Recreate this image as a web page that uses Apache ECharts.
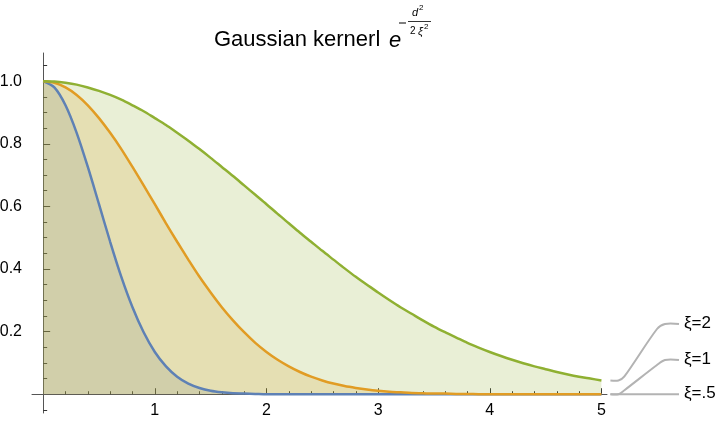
<!DOCTYPE html>
<html>
<head>
<meta charset="utf-8">
<style>
  html, body { margin: 0; padding: 0; background: #fff; }
  #chart { width: 724px; height: 425px; }
</style>
<script src="https://cdn.jsdelivr.net/npm/echarts@6/dist/echarts.min.js"></script>
</head>
<body>
<div id="chart"></div>
<script>
// d values, step 0.1 from 0 to 5
var dValues = [0,0.1,0.2,0.3,0.4,0.5,0.6,0.7,0.8,0.9,1,1.1,1.2,1.3,1.4,1.5,1.6,1.7,1.8,1.9,2,
  2.1,2.2,2.3,2.4,2.5,2.6,2.7,2.8,2.9,3,3.1,3.2,3.3,3.4,3.5,3.6,3.7,3.8,3.9,4,
  4.1,4.2,4.3,4.4,4.5,4.6,4.7,4.8,4.9,5];

// kernel values
var xiHalf = [1,0.980,0.923,0.835,0.726,0.607,0.487,0.375,0.278,0.198,0.135,0.089,0.056,0.034,0.020,0.011,0.006,0.003,0.002,0.001,0,
  0,0,0,0,0,0,0,0,0,0,0,0,0,0,0,0,0,0,0,0,
  0,0,0,0,0,0,0,0,0,0];
var xiOne = [1,0.995,0.980,0.956,0.923,0.882,0.835,0.783,0.726,0.667,0.607,0.546,0.487,0.430,0.375,0.325,0.278,0.236,0.198,0.164,0.135,
  0.110,0.089,0.071,0.056,0.044,0.034,0.026,0.020,0.015,0.011,0.008,0.006,0.004,0.003,0.002,0.002,0.001,0.001,0,0,
  0,0,0,0,0,0,0,0,0,0];
var xiTwo = [1,0.999,0.995,0.989,0.980,0.969,0.956,0.941,0.923,0.904,0.882,0.860,0.835,0.810,0.783,0.755,0.726,0.697,0.667,0.637,0.607,
  0.576,0.546,0.516,0.487,0.458,0.430,0.402,0.375,0.350,0.325,0.301,0.278,0.257,0.236,0.216,0.198,0.181,0.164,0.149,0.135,
  0.122,0.110,0.099,0.089,0.080,0.071,0.063,0.056,0.050,0.044];

var seriesNames = ['ξ=.5', 'ξ=1', 'ξ=2'];
var seriesColors = ['#5E81B5', '#E19C24', '#8FB032'];

var xMajorTicks = [1, 2, 3, 4, 5];
var xMinorTicks = [0.2,0.4,0.6,0.8,1.2,1.4,1.6,1.8,2.2,2.4,2.6,2.8,3.2,3.4,3.6,3.8,4.2,4.4,4.6,4.8];
var yMajorTicks = [0.2, 0.4, 0.6, 0.8, 1.0];
var yMinorTicks = [-0.05,0.05,0.1,0.15,0.25,0.3,0.35,0.45,0.5,0.55,0.65,0.7,0.75,0.85,0.9,0.95,1.05];

var allValues = [xiHalf, xiOne, xiTwo];

function pairs(vals) {
  return dValues.map(function (d, i) { return [d, vals[i]]; });
}

var myChart = echarts.init(document.getElementById('chart'));

var series = [];
// fillings underneath
allValues.forEach(function (vals, i) {
  series.push({
    type: 'line',
    name: seriesNames[i] + ' fill',
    data: pairs(vals),
    showSymbol: false,
    smooth: 0.3,
    silent: true,
    z: 1,
    lineStyle: { width: 0, opacity: 0 },
    areaStyle: { color: seriesColors[i], opacity: 0.2 },
  });
});
// curves on top
allValues.forEach(function (vals, i) {
  series.push({
    type: 'line',
    name: seriesNames[i],
    data: pairs(vals),
    showSymbol: false,
    smooth: 0.3,
    z: 3,
    lineStyle: { width: 2.5, color: seriesColors[i] },
    itemStyle: { color: seriesColors[i] },
  });
});

var axisColor = '#555';
var tickColor = '#333';
var labelStyle = { color: '#000', fontSize: 16, fontFamily: 'Liberation Sans' };

var option = {
  animation: false,
  grid: { left: 32, right: 117, top: 53, bottom: 12, containLabel: false, outerBoundsMode: 'none' },
  xAxis: [
    {
      type: 'value', min: -0.1, max: 5.05,
      axisLine: { onZero: true, lineStyle: { color: axisColor, width: 1 } },
      axisTick: { inside: true, length: 6, customValues: xMajorTicks, lineStyle: { color: tickColor } },
      // labels are laid out from the grid bottom, so pull them up to the zero line
      axisLabel: Object.assign({ customValues: xMajorTicks, margin: -10 }, labelStyle),
      splitLine: { show: false },
    },
    {
      type: 'value', min: -0.1, max: 5.05, position: 'bottom',
      axisLine: { show: false, onZero: true },
      axisTick: { inside: true, length: 3, customValues: xMinorTicks, lineStyle: { color: tickColor } },
      axisLabel: { show: false },
      splitLine: { show: false },
    },
  ],
  yAxis: [
    {
      type: 'value', min: -0.06, max: 1.09,
      axisLine: { show: true, onZero: true, lineStyle: { color: axisColor, width: 1 } },
      axisTick: { show: true, inside: true, length: 7, customValues: yMajorTicks, lineStyle: { color: tickColor } },
      axisLabel: Object.assign({
        customValues: yMajorTicks, margin: 10,
        formatter: function (v) { return v.toFixed(1); },
      }, labelStyle),
      splitLine: { show: false },
    },
    {
      type: 'value', min: -0.06, max: 1.09, position: 'left',
      axisLine: { show: false, onZero: true },
      axisTick: { show: true, inside: true, length: 4, customValues: yMinorTicks, lineStyle: { color: tickColor } },
      axisLabel: { show: false },
      splitLine: { show: false },
    },
  ],
  series: series,
};
myChart.setOption(option);

// title with the kernel formula
var titleFont = 'Liberation Sans';
var graphics = [
  { type: 'text', left: 214, top: 29, style: { text: 'Gaussian kernerl', fontSize: 22, fontFamily: titleFont, fill: '#000' } },
  { type: 'text', left: 389, top: 30, style: { text: 'e', fontSize: 22, fontStyle: 'italic', fontFamily: titleFont, fill: '#000' } },
  { type: 'line', shape: { x1: 399, y1: 23, x2: 406, y2: 23 }, style: { stroke: '#000', lineWidth: 1 } },
  { type: 'line', shape: { x1: 408, y1: 21.5, x2: 431, y2: 21.5 }, style: { stroke: '#000', lineWidth: 0.8 } },
  { type: 'text', left: 412, top: 7, style: { text: 'd', fontSize: 11, fontStyle: 'italic', fontFamily: titleFont, fill: '#000' } },
  { type: 'text', left: 419, top: 4, style: { text: '2', fontSize: 8, fontFamily: titleFont, fill: '#000' } },
  { type: 'text', left: 410, top: 26, style: { text: '2', fontSize: 10, fontFamily: titleFont, fill: '#000' } },
  { type: 'text', left: 418, top: 26, style: { text: 'ξ', fontSize: 11, fontStyle: 'italic', fontFamily: titleFont, fill: '#000' } },
  { type: 'text', left: 424, top: 23, style: { text: '2', fontSize: 8, fontFamily: titleFont, fill: '#000' } },
];

// callout labels at the right end of each curve
var labelY = [395, 360, 324];
allValues.forEach(function (vals, i) {
  var end = myChart.convertToPixel({ gridIndex: 0 }, [dValues[dValues.length - 1], vals[vals.length - 1]]);
  var x0 = end[0] + 9, y0 = end[1], y1 = labelY[i];
  var pts;
  if (Math.abs(y1 - y0) < 3) {
    pts = [[x0, y0], [679, y0]];
    y1 = y0;
  } else {
    pts = [[x0, y0], [x0 + 8, y0], [x0 + 14, y0 - 4], [657, y1 + 5], [665, y1], [679, y1]];
  }
  graphics.push({
    type: 'polyline', shape: { points: pts, smooth: 0.3 }, silent: true,
    style: { stroke: '#b3b3b3', lineWidth: 2, fill: null },
  });
  graphics.push({
    type: 'text', left: 684, top: y1 - 9,
    style: { text: seriesNames[i], fontSize: 17, fontFamily: titleFont, fill: '#000' },
  });
});
myChart.setOption({ graphic: graphics });
</script>
</body>
</html>
